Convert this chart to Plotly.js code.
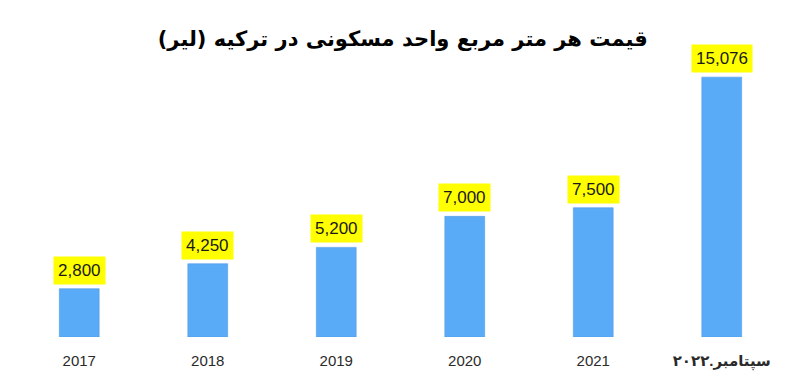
<!DOCTYPE html>
<html>
<head>
<meta charset="utf-8">
<script src="https://cdn.plot.ly/plotly-3.0.1.min.js"></script>
<style>html,body{margin:0;padding:0;background:#fff;}#chart{width:800px;height:388px;}</style>
</head>
<body>
<div id="chart"></div>
<script>
const categories = ["2017", "2018", "2019", "2020", "2021", "سپتامبر.۲۰۲۲"];
const tickLabels = ["2017", "2018", "2019", "2020", "2021", "<b>سپتامبر.۲۰۲۲</b>"];
const values = [2800, 4250, 5200, 7000, 7500, 15076];
const valueLabels = ["2,800", "4,250", "5,200", "7,000", "7,500", "15,076"];
const titleText = "<b>قیمت هر متر مربع واحد مسکونی در ترکیه (لیر)</b>";

const positions = categories.map((c, i) => i);

const trace = {
  type: "bar",
  x: positions,
  y: values,
  width: 0.31,
  marker: {color: "#5AABF7", line: {color: "#4F9BE6", width: 0.6}},
  hoverinfo: "none"
};

const annotations = positions.map((p, i) => ({
  x: p, y: values[i], xref: "x", yref: "y",
  text: valueLabels[i], showarrow: false,
  yanchor: "bottom", yshift: 4,
  bgcolor: "#FFFF00", borderpad: 4,
  font: {family: "Liberation Sans, Arial, sans-serif", size: 17, color: "#1a1a1a"}
}));

const layout = {
  width: 800, height: 388,
  margin: {l: 15, r: 14, t: 44, b: 51},
  paper_bgcolor: "#ffffff", plot_bgcolor: "#ffffff",
  showlegend: false,
  title: {
    text: titleText,
    x: 0.503, xanchor: "center", xref: "paper",
    y: 0.9, yanchor: "middle", yref: "container",
    font: {family: "DejaVu Sans, sans-serif", size: 21, color: "#000"}
  },
  xaxis: {
    type: "linear", range: [-0.5, 5.5],
    tickmode: "array", tickvals: positions, ticktext: tickLabels,
    showgrid: false, zeroline: false, showline: false,
    ticks: "", ticklabelstandoff: 13,
    tickfont: {family: "Liberation Sans, DejaVu Sans, sans-serif", size: 15, color: "#2a2a2a"}
  },
  yaxis: {
    range: [0, 17000], visible: false, showgrid: false, zeroline: false
  },
  annotations: annotations
};

Plotly.newPlot("chart", [trace], layout, {displayModeBar: false, staticPlot: true});
</script>
</body>
</html>
